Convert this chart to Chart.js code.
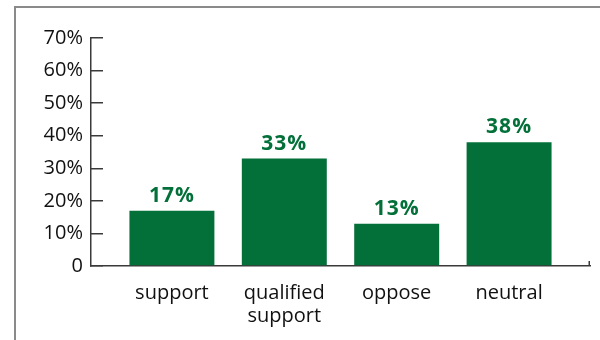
<!DOCTYPE html>
<html>
<head>
<meta charset="utf-8">
<script src="https://cdn.jsdelivr.net/npm/chart.js@4/dist/chart.umd.min.js"></script>
<style>
  html, body { margin: 0; padding: 0; background: #fff; }
  #wrap { position: relative; width: 600px; height: 340px; overflow: hidden; }
  #frame {
    position: absolute; left: 14px; top: 6px; width: 600px; height: 340px;
    border-top: 2px solid #8a8a8a; border-left: 2px solid #8a8a8a;
  }
  #chart { position: absolute; left: 0; top: 0; }
</style>
</head>
<body>
<div id="wrap">
  <div id="frame"></div>
  <canvas id="chart" width="600" height="340"></canvas>
</div>
<script>
// Survey responses, share of respondents (%)
const categories = ['support', ['qualified', 'support'], 'oppose', 'neutral'];
const shares = [17, 33, 13, 38];
const yTicks = [0, 10, 20, 30, 40, 50, 60, 70];

const GREEN = '#03703a';
const AXIS = '#3a3a3a';
const FONT = "'Open Sans', 'Noto Sans', sans-serif";
const X_MIN = -0.72;
const X_MAX = categories.length - 1 + 0.72;

// Value labels above each bar, plus the small closing tick at the end of the x axis
const barExtras = {
  id: 'barExtras',
  afterDatasetsDraw(chart) {
    const ctx = chart.ctx;
    const meta = chart.getDatasetMeta(0);
    ctx.save();
    ctx.fillStyle = GREEN;
    ctx.font = 'bold 21px ' + FONT;
    ctx.letterSpacing = '1px';
    ctx.textAlign = 'center';
    ctx.textBaseline = 'alphabetic';
    meta.data.forEach((bar, i) => {
      ctx.fillText(shares[i] + '%', bar.x, bar.y - 9);
    });
    ctx.restore();
  },
  afterDraw(chart) {
    const ctx = chart.ctx;
    const xs = chart.scales.x;
    const xEnd = xs.getPixelForValue(X_MAX);
    ctx.save();
    ctx.strokeStyle = AXIS;
    ctx.lineWidth = 1.5;
    ctx.beginPath();
    ctx.moveTo(xEnd - 0.75, xs.top);
    ctx.lineTo(xEnd - 0.75, xs.top - 5);
    ctx.stroke();
    ctx.restore();
  }
};

new Chart(document.getElementById('chart'), {
  type: 'bar',
  data: {
    datasets: [{
      data: shares.map((v, i) => ({ x: i, y: v })),
      backgroundColor: GREEN,
      borderWidth: 0,
      categoryPercentage: 1,
      barPercentage: 0.756
    }]
  },
  options: {
    responsive: false,
    animation: false,
    events: [],
    layout: { padding: { top: 38, right: 10, left: 0, bottom: 0 } },
    plugins: { legend: { display: false }, tooltip: { enabled: false } },
    scales: {
      x: {
        type: 'linear',
        offset: false,
        min: X_MIN,
        max: X_MAX,
        afterBuildTicks(scale) {
          scale.ticks = categories.map((_, i) => ({ value: i }));
        },
        afterFit(scale) { scale.height = 74; },
        border: { display: true, color: AXIS, width: 1.5 },
        grid: { offset: false, display: false },
        ticks: {
          autoSkip: false,
          maxRotation: 0,
          padding: 8,
          color: '#111',
          font: { family: FONT, size: 20, lineHeight: 1.15 },
          callback: v => (Number.isInteger(v) && categories[v] !== undefined) ? categories[v] : ''
        }
      },
      y: {
        min: 0,
        max: 70,
        afterBuildTicks(scale) { scale.ticks = yTicks.map(v => ({ value: v })); },
        afterFit(scale) { scale.width = 91; },
        border: { display: true, color: AXIS, width: 1.5 },
        grid: {
          drawOnChartArea: false,
          drawTicks: true,
          tickLength: -12,
          lineWidth: 1.5,
          color: AXIS
        },
        ticks: {
          padding: 20,
          color: '#111',
          font: { family: FONT, size: 20 },
          callback: v => v === 0 ? '0' : v + '%'
        }
      }
    }
  },
  plugins: [barExtras]
});
</script>
</body>
</html>
